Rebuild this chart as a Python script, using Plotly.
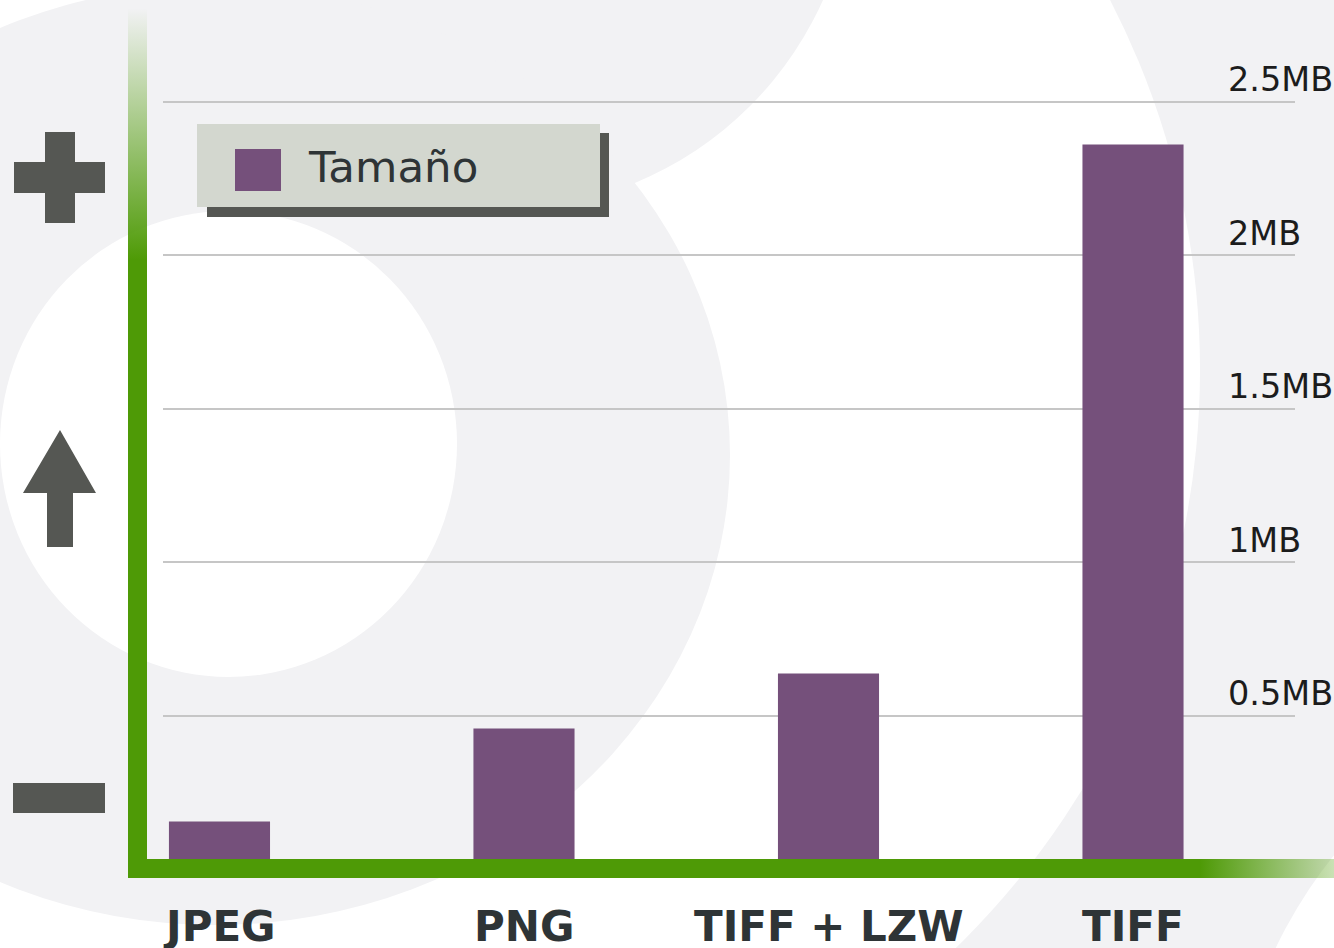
import base64
import plotly.graph_objects as go

# Tamaño de archivo por formato (MB)
formatos = ["JPEG", "PNG", "TIFF + LZW", "TIFF"]
tamano_mb = [0.155, 0.458, 0.637, 2.36]
valores_eje = [0.5, 1.0, 1.5, 2.0, 2.5]
etiquetas_eje = ["0.5MB", "1MB", "1.5MB", "2MB", "2.5MB"]
nombre_serie = "Tamaño"

W, H = 1334, 948
ML, MR, MT, MB = 163, 39, 0, 79
PW, PH = W - ML - MR, H - MT - MB

MORADO = "#75507b"
VERDE = "#4e9a06"
GRIS_OSCURO = "#555753"
FONDO = "#f2f2f4"


def px(x):
    """Pixel column -> paper x."""
    return (x - ML) / PW


def py(y):
    """Pixel row (from top) -> paper y."""
    return (MT + PH - y) / PH


def rect(x0, y0, x1, y1, color, layer="above"):
    return dict(type="rect", xref="paper", yref="paper",
                x0=px(x0), x1=px(x1), y0=py(y1), y1=py(y0),
                fillcolor=color, line=dict(width=0), layer=layer)


def ellipse(x0, y0, x1, y1, color):
    return dict(type="circle", xref="paper", yref="paper",
                x0=px(x0), x1=px(x1), y0=py(y1), y1=py(y0),
                fillcolor=color, line=dict(width=0), layer="below")


fig = go.Figure(
    go.Bar(
        x=formatos,
        y=tamano_mb,
        width=0.332,
        marker=dict(color=MORADO, line=dict(width=0)),
        showlegend=False,
        hoverinfo="skip",
    )
)

shapes = []

# decorative background discs
shapes.append(ellipse(394 - 806, 370 - 806, 394 + 806, 370 + 806, "#ffffff"))
shapes.append(ellipse(499 - 355, -145 - 355, 499 + 355, -145 + 355, FONDO))
shapes.append(ellipse(215 - 515, 455 - 470, 215 + 515, 455 + 470, FONDO))
shapes.append(ellipse(0, 211, 457, 677, "#ffffff"))
shapes.append(ellipse(1700 - 470, 1150 - 470, 1700 + 470, 1150 + 470, "#ffffff"))

# legend box with drop shadow
shapes.append(rect(207, 133, 609, 217, GRIS_OSCURO))
shapes.append(rect(197, 124, 600, 207, "#d3d7cf"))
shapes.append(rect(235, 149, 281, 191, MORADO))

# plus sign
shapes.append(rect(45, 132, 75, 223, GRIS_OSCURO))
shapes.append(rect(14, 162, 105, 193, GRIS_OSCURO))
# up arrow
arrow_pts = [(60, 430), (96, 493), (73, 493), (73, 547), (47, 547), (47, 493), (23, 493)]
path = "M" + " L".join(f"{px(a):.5f},{py(b):.5f}" for a, b in arrow_pts) + " Z"
shapes.append(dict(type="path", xref="paper", yref="paper", path=path,
                   fillcolor=GRIS_OSCURO, line=dict(width=0), layer="above"))
# minus sign
shapes.append(rect(13, 783, 105, 813, GRIS_OSCURO))

# green L-shaped axis with faded ends (SVG gradient image)
ax_x0, ax_y0, ax_x1, ax_y1 = 128, 8, 1334, 878
gw, gh = ax_x1 - ax_x0, ax_y1 - ax_y0
fade_v = (260 - ax_y0) / gh
fade_h = (1200 - ax_x0) / gw
svg = f"""<svg xmlns="http://www.w3.org/2000/svg" width="{gw}" height="{gh}" viewBox="0 0 {gw} {gh}" preserveAspectRatio="none">
<defs>
<linearGradient id="gv" x1="0" y1="0" x2="0" y2="1">
<stop offset="0" stop-color="{VERDE}" stop-opacity="0"/>
<stop offset="{fade_v:.4f}" stop-color="{VERDE}" stop-opacity="1"/>
<stop offset="1" stop-color="{VERDE}" stop-opacity="1"/>
</linearGradient>
<linearGradient id="gh" x1="0" y1="0" x2="1" y2="0">
<stop offset="0" stop-color="{VERDE}" stop-opacity="1"/>
<stop offset="{fade_h:.4f}" stop-color="{VERDE}" stop-opacity="1"/>
<stop offset="1" stop-color="{VERDE}" stop-opacity="0.3"/>
</linearGradient>
</defs>
<rect x="0" y="0" width="19" height="{gh}" fill="url(#gv)"/>
<rect x="0" y="{gh - 19}" width="{gw}" height="19" fill="url(#gh)"/>
</svg>"""
svg_uri = "data:image/svg+xml;base64," + base64.b64encode(svg.encode()).decode()

annotations = []
for v, t in zip(valores_eje, etiquetas_eje):
    annotations.append(dict(
        x=px(1226), xref="paper", y=v, yref="y", text=t, showarrow=False,
        xanchor="left", yanchor="middle", yshift=22,
        font=dict(family="DejaVu Sans", size=33.5, color="#1c1c1c"),
    ))
for f in formatos:
    annotations.append(dict(
        x=f, xref="x", y=0, yref="y", text=f, showarrow=False,
        xanchor="center", yanchor="middle", yshift=-57,
        font=dict(family="DejaVu Sans", size=42, color="#2e3436", weight="bold"),
    ))
annotations.append(dict(
    x=px(306), xref="paper", y=py(167), yref="paper", text=nombre_serie,
    showarrow=False, xanchor="left", yanchor="middle",
    font=dict(family="DejaVu Sans", size=43.5, color="#2e3436"),
))

fig.update_layout(
    width=W, height=H,
    margin=dict(l=ML, r=MR, t=MT, b=MB, pad=0),
    paper_bgcolor=FONDO,
    plot_bgcolor="rgba(0,0,0,0)",
    showlegend=False,
    shapes=shapes,
    annotations=annotations,
    images=[dict(source=svg_uri, xref="paper", yref="paper",
                 x=px(ax_x0), y=py(ax_y0), sizex=gw / PW, sizey=gh / PH,
                 xanchor="left", yanchor="top", sizing="stretch", layer="above")],
    xaxis=dict(type="category", range=[-0.1855, 3.532], showgrid=False,
               showticklabels=False, zeroline=False, showline=False, ticks=""),
    yaxis=dict(range=[0, PH / 307], tickvals=valores_eje, showgrid=True,
               gridcolor="#c6c6c6", gridwidth=1.5, showticklabels=False,
               zeroline=False, showline=False, ticks=""),
)

fig.write_html("out.html", config=dict(displayModeBar=False))
